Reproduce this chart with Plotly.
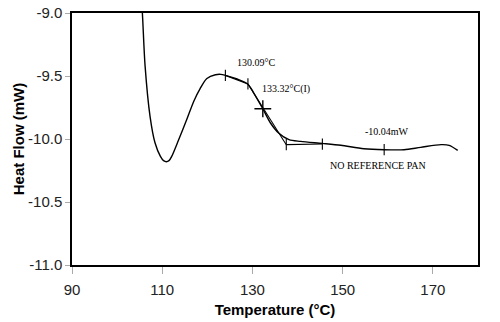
import plotly.graph_objects as go

# DSC curve (Temperature °C, Heat Flow mW)
temp = [105.3, 105.6, 106.2, 107.3, 108.4, 109.6, 110.3, 110.9, 111.5, 112.1, 113.6, 115.5, 117.0,
        118.4, 119.9, 121.8, 123.0, 124.0, 126.6, 129.0, 130.3, 132.3, 134.0,
        135.8, 138.1, 140.7, 145.5, 149.6, 154.7, 159.2, 163.6, 167.3, 171.8,
        173.6, 175.5]
heat = [-8.85, -9.0, -9.42, -9.82, -10.03, -10.138, -10.172, -10.18, -10.172, -10.138, -10.01, -9.84, -9.70,
        -9.60, -9.52, -9.49, -9.487, -9.495, -9.524, -9.565, -9.635, -9.76, -9.873,
        -9.952, -10.005, -10.019, -10.035, -10.05, -10.077, -10.085, -10.085, -10.066, -10.045,
        -10.05, -10.09]

# construction lines (onset tangent and baseline)
tan1_t = [124.0, 129.0]
tan1_h = [-9.495, -9.563]
tan2_t = [129.0, 137.5]
tan2_h = [-9.563, -10.045]
base_t = [137.5, 145.5]
base_h = [-10.045, -10.04]

# small tick marks on the curve
tick_t = [124.0, 129.0, 137.5, 145.5, 159.2]
tick_h = [-9.495, -9.563, -10.045, -10.04, -10.085]
# inflection point
infl_t = [132.3]
infl_h = [-9.76]

x_ticks = [90, 110, 130, 150, 170]
y_ticks = [-9.0, -9.5, -10.0, -10.5, -11.0]

fig = go.Figure()
fig.add_trace(go.Scatter(x=temp, y=heat, mode="lines",
                         line=dict(color="black", width=1.4, shape="spline", smoothing=0.8)))
for tx, hy in [(tan1_t, tan1_h), (tan2_t, tan2_h), (base_t, base_h)]:
    fig.add_trace(go.Scatter(x=tx, y=hy, mode="lines", line=dict(color="black", width=1.1)))
fig.add_trace(go.Scatter(x=tick_t, y=tick_h, mode="markers",
                         marker=dict(symbol="line-ns", size=8, line=dict(color="black", width=1.1))))
fig.add_trace(go.Scatter(x=infl_t, y=infl_h, mode="markers",
                         marker=dict(symbol="cross-thin", size=12, line=dict(color="black", width=1.4))))

serif = dict(family="Liberation Serif", size=10, color="black")
fig.add_annotation(x=126.2, y=-9.39, text="130.09°C", showarrow=False, xanchor="left", font=serif)
fig.add_annotation(x=131.6, y=-9.60, text="133.32°C(I)", showarrow=False, xanchor="left", font=serif)
fig.add_annotation(x=159.9, y=-9.94, text="-10.04mW", showarrow=False, font=serif)
fig.add_annotation(x=157.8, y=-10.207, text="NO REFERENCE PAN", showarrow=False, font=serif)

axis_font = dict(family="Liberation Sans", size=15, color="#222")
fig.update_layout(
    width=500, height=322,
    margin=dict(l=72, r=22, t=13, b=57),
    paper_bgcolor="white", plot_bgcolor="white",
    showlegend=False,
    xaxis=dict(range=[90, 180], tickvals=x_ticks, ticktext=[str(v) for v in x_ticks],
               automargin=False,
               showgrid=False, zeroline=False, showline=True, linecolor="black", linewidth=1.5,
               mirror=True, ticks="outside", ticklen=7, tickcolor="#aaa", tickfont=axis_font,
               ticklabelstandoff=3,
               title=dict(text="<b>Temperature (°C)</b>", font=dict(family="Liberation Sans", size=15, color="black"),
                          standoff=8)),
    yaxis=dict(range=[-11.0, -9.0], tickvals=y_ticks, ticktext=["%.1f" % v for v in y_ticks],
               automargin=False,
               showgrid=False, zeroline=False, showline=True, linecolor="black", linewidth=1.5,
               mirror=True, ticks="outside", ticklen=5, tickcolor="#aaa", tickfont=axis_font,
               title=dict(text="<b>Heat Flow (mW)</b>", font=dict(family="Liberation Sans", size=15, color="black"),
                          standoff=0)),
)
fig.write_html("out.html")
